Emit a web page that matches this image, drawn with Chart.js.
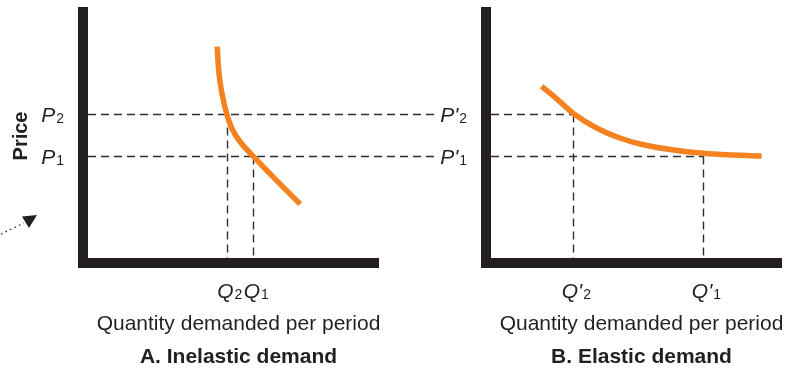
<!DOCTYPE html>
<html>
<head>
<meta charset="utf-8">
<script src="https://cdn.jsdelivr.net/npm/chart.js@4.4.1/dist/chart.umd.min.js"></script>
<style>
  html, body { margin: 0; padding: 0; background: #fff; }
  #wrap { position: relative; width: 788px; height: 370px; }
  #wrap canvas { position: absolute; top: 0; }
  #inelastic { left: 0; }
  #elastic { left: 400px; }
</style>
</head>
<body>
<div id="wrap">
  <canvas id="inelastic" width="400" height="370"></canvas>
  <canvas id="elastic" width="388" height="370"></canvas>
</div>
<script>
const INK = '#231f20';
const DASH = '#2e2e2e';
const CURVE = '#f58220';
const FONT = '"Liberation Sans", Arial, Helvetica, sans-serif';

// price levels shared by both panels: P1, P2
const priceLevels = [4.05, 5.73];
const priceSubs = ['1', '2'];

// A. inelastic demand
const inelasticQty = [5.68, 4.77];   // Q1, Q2
const inelasticX = [4.44, 4.5, 4.6, 4.77, 4.97, 5.26, 5.68, 6.36, 7.29];
const inelasticY = [8.42, 7.37, 6.57, 5.73, 5.1, 4.58, 4.05, 3.23, 2.15];

// B. elastic demand
const elasticQty = [7.3, 2.83];      // Q'1, Q'2
const elasticX = [1.74, 2.26, 2.83, 3.63, 4.43, 5.16, 6.27, 7.3, 8.33, 9.3];
const elasticY = [6.84, 6.34, 5.76, 5.18, 4.78, 4.53, 4.3, 4.17, 4.1, 4.06];

// italic letter with a small upright subscript, e.g. P2 or Q'1
function drawSub(ctx, main, sub, x, base, align) {
  ctx.font = `italic 21px ${FONT}`;
  const mw = ctx.measureText(main).width;
  ctx.font = `14px ${FONT}`;
  const sw = ctx.measureText(sub).width;
  const total = mw + 1 + sw;
  const left = align === 'right' ? x - total : x - total / 2;
  ctx.textAlign = 'left';
  ctx.textBaseline = 'alphabetic';
  ctx.font = `italic 21px ${FONT}`;
  ctx.fillText(main, left, base);
  ctx.font = `14px ${FONT}`;
  ctx.fillText(sub, left + mw + 1, base + 1);
  return left;
}

function dashed(ctx, x1, y1, x2, y2) {
  ctx.save();
  ctx.strokeStyle = DASH;
  ctx.lineWidth = 1.4;
  ctx.setLineDash([8, 5]);
  ctx.beginPath();
  ctx.moveTo(x1, y1);
  ctx.lineTo(x2, y2);
  ctx.stroke();
  ctx.restore();
}

function panelPlugin(cfg) {
  return {
    id: 'panel_' + cfg.key,
    beforeDatasetsDraw(chart) {
      const { ctx, chartArea: a, scales: { x, y } } = chart;
      priceLevels.forEach((p, i) => {
        const py = Math.round(y.getPixelForValue(p)) + 0.5;
        const qx = Math.round(x.getPixelForValue(cfg.qty[i])) + 0.5;
        dashed(ctx, a.left, py, cfg.spanRight ? chart.width : qx, py);
        dashed(ctx, qx, py, qx, a.bottom);
      });
    },
    afterDraw(chart) {
      const { ctx, chartArea: a, scales: { x, y } } = chart;
      ctx.save();
      ctx.fillStyle = INK;

      // heavy axes
      ctx.fillRect(a.left - 10, a.top, 10, a.bottom + 10 - a.top);
      ctx.fillRect(a.left - 10, a.bottom, a.right - a.left + 10, 10);

      // price labels beside the vertical axis
      priceLevels.forEach((p, i) => {
        const py = y.getPixelForValue(p);
        const left = drawSub(ctx, cfg.pLetter, priceSubs[i], a.left - 24, py + 8, 'right');
        if (cfg.leadIn) {
          dashed(ctx, 0, Math.round(py) + 0.5, left - 3, Math.round(py) + 0.5);
        }
      });

      // quantity labels under the horizontal axis
      cfg.qty.forEach((q, i) => {
        drawSub(ctx, cfg.qLetter, priceSubs[i], x.getPixelForValue(q) + 3, a.bottom + 40, 'center');
      });

      const cx = (a.left + a.right) / 2 + 5;
      ctx.textAlign = 'center';
      ctx.textBaseline = 'alphabetic';
      ctx.font = `21px ${FONT}`;
      ctx.fillText('Quantity demanded per period', cx, a.bottom + 72);
      ctx.font = `bold 21px ${FONT}`;
      ctx.fillText(cfg.title, cx, a.bottom + 105);

      if (cfg.price) {
        ctx.save();
        ctx.translate(21, 136);
        ctx.rotate(-Math.PI / 2);
        ctx.font = `bold 20px ${FONT}`;
        ctx.textBaseline = 'middle';
        ctx.fillText('Price', 0, 0);
        ctx.restore();

        // small dotted pointer at the left edge
        ctx.strokeStyle = INK;
        ctx.lineWidth = 1.3;
        ctx.setLineDash([1.5, 3.5]);
        ctx.beginPath(); ctx.moveTo(1, 234); ctx.lineTo(24, 223); ctx.stroke();
        ctx.setLineDash([]);
        ctx.beginPath();
        ctx.moveTo(22, 216.5); ctx.lineTo(37, 215); ctx.lineTo(29, 228);
        ctx.closePath(); ctx.fill();
      }
      ctx.restore();
    }
  };
}

function makeChart(id, xs, ys, pad, cfg) {
  return new Chart(document.getElementById(id), {
    type: 'line',
    data: {
      datasets: [{
        data: xs.map((v, i) => ({ x: v, y: ys[i] })),
        borderColor: CURVE,
        borderWidth: 5.5,
        pointRadius: 0,
        tension: 0.4,
        fill: false
      }]
    },
    options: {
      responsive: false,
      animation: false,
      devicePixelRatio: 1,
      layout: { padding: pad },
      scales: {
        x: { type: 'linear', min: 0, max: 10, display: false },
        y: { min: 0, max: 10, display: false }
      },
      plugins: { legend: { display: false }, tooltip: { enabled: false } }
    },
    plugins: [panelPlugin(cfg)]
  });
}

makeChart('inelastic', inelasticX, inelasticY,
  { left: 88, right: 21, top: 7, bottom: 112 },
  { key: 'a', qty: inelasticQty, pLetter: 'P', qLetter: 'Q', title: 'A. Inelastic demand', spanRight: true, price: true });

makeChart('elastic', elasticX, elasticY,
  { left: 91, right: 6, top: 7, bottom: 112 },
  { key: 'b', qty: elasticQty, pLetter: "P'", qLetter: "Q'", title: 'B. Elastic demand', leadIn: true });
</script>
</body>
</html>
